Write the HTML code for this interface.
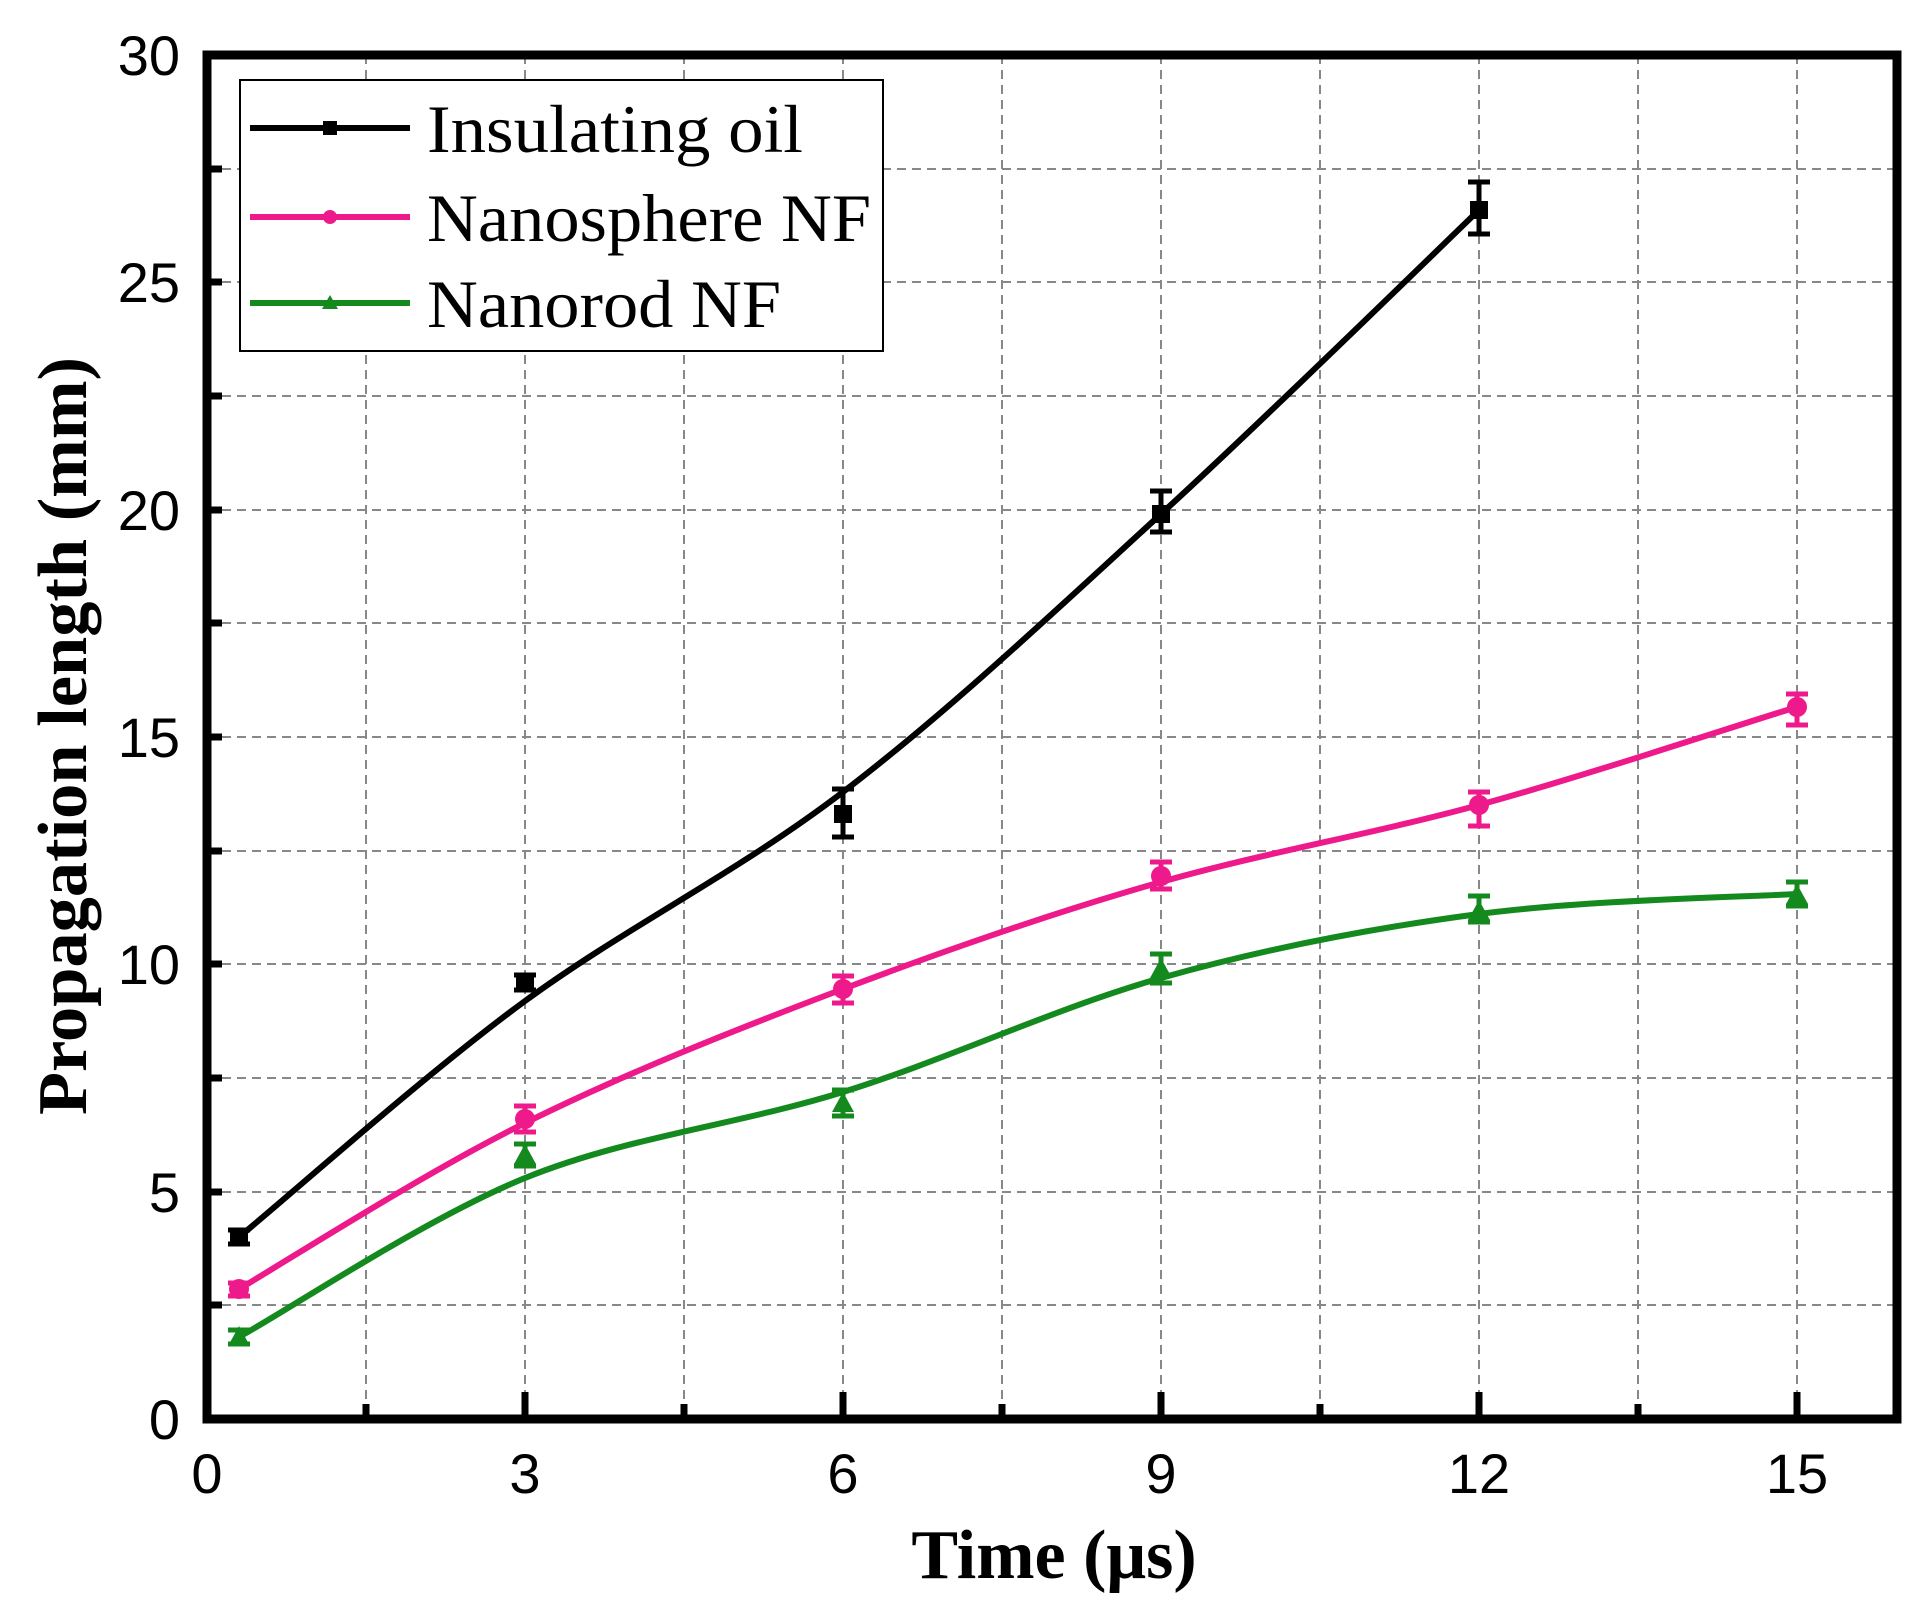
<!DOCTYPE html>
<html><head><meta charset="utf-8"><style>
html,body{margin:0;padding:0;background:#fff;}
svg{display:block;}
</style></head><body>
<svg width="1931" height="1613" xmlns="http://www.w3.org/2000/svg">
<g stroke="#888" stroke-width="2" stroke-dasharray="9,6" fill="none">
<path d="M366 55V1419M525 55V1419M684 55V1419M843 55V1419M1002 55V1419M1161 55V1419M1320 55V1419M1479 55V1419M1638 55V1419M1797 55V1419"/>
<path d="M207 1305H1897M207 1192H1897M207 1078H1897M207 964H1897M207 851H1897M207 737H1897M207 623H1897M207 510H1897M207 396H1897M207 282H1897M207 169H1897"/>
</g>
<g stroke="#000" stroke-width="7">
<path d="M366 1419V1404M684 1419V1404M1002 1419V1404M1320 1419V1404M1638 1419V1404"/>
<path d="M525 1419V1392M843 1419V1392M1161 1419V1392M1479 1419V1392M1797 1419V1392"/>
<path d="M207 1305H222M207 1192H222M207 1078H222M207 964H222M207 851H222M207 737H222M207 623H222M207 510H222M207 396H222M207 282H222M207 169H222"/>
</g>
<rect x="207" y="55" width="1690" height="1364" fill="none" stroke="#000" stroke-width="9"/>
<!-- legend -->
<rect x="240" y="80" width="643" height="271" fill="#fff" stroke="#000" stroke-width="2"/>
<g stroke-width="6">
<path d="M250 128H410" stroke="#000"/><rect x="323" y="121" width="14" height="14" fill="#000"/>
<path d="M250 217H410" stroke="#ee1a8c"/><circle cx="330" cy="217" r="7" fill="#ee1a8c"/>
<path d="M250 303H410" stroke="#148a1e"/><path d="M330 295L338 309H322Z" fill="#148a1e"/>
</g>
<g font-family="Liberation Serif, serif" font-size="68" fill="#000">
<text x="427" y="152" textLength="376" lengthAdjust="spacingAndGlyphs">Insulating oil</text>
<text x="427" y="241" textLength="444" lengthAdjust="spacingAndGlyphs">Nanosphere NF</text>
<text x="427" y="327" textLength="354" lengthAdjust="spacingAndGlyphs">Nanorod NF</text>
</g>
<!-- curves -->
<g fill="none" stroke-width="6">
<path stroke="#000" d="M239 1237C287 1198 424 1075 525 1001C626 927 737 873 843 792C949 711 1055 611 1161 514C1267 417 1426 261 1479 210"/>
<path stroke="#ee1a8c" d="M239 1289C287 1261 424 1173 525 1123C626 1073 737 1029 843 989C949 949 1055 912 1161 882C1267 852 1373 834 1479 805C1585 776 1744 723 1797 707"/>
<path stroke="#148a1e" d="M239 1337C287 1311 424 1219 525 1178C626 1137 737 1125 843 1092C949 1059 1055 1008 1161 978C1267 948 1373 928 1479 914C1585 900 1744 897 1797 894"/>
</g>
<!-- error bars & markers -->
<g stroke="#000" stroke-width="5" fill="#000">
<path d="M228 1230H250M228 1244H250M239 1230V1244 M514 975H536M514 990H536M525 975V990 M832 789H854M832 837H854M843 789V837 M1150 491H1172M1150 532H1172M1161 491V532 M1468 182H1490M1468 234H1490M1479 182V234"/>
<rect x="230" y="1228" width="18" height="18" stroke="none"/>
<rect x="516" y="973" width="18" height="18" stroke="none"/>
<rect x="834" y="805" width="18" height="18" stroke="none"/>
<rect x="1152" y="505" width="18" height="18" stroke="none"/>
<rect x="1470" y="201" width="18" height="18" stroke="none"/>
</g>
<g stroke="#ee1a8c" stroke-width="5" fill="#ee1a8c">
<path d="M228 1283H250M228 1296H250M239 1283V1296 M514 1106H536M514 1132H536M525 1106V1132 M832 976H854M832 1003H854M843 976V1003 M1150 862H1172M1150 889H1172M1161 862V889 M1468 792H1490M1468 826H1490M1479 792V826 M1786 694H1808M1786 725H1808M1797 694V725"/>
<circle cx="239" cy="1289" r="10" stroke="none"/><circle cx="525" cy="1119" r="10" stroke="none"/><circle cx="843" cy="989" r="10" stroke="none"/><circle cx="1161" cy="876" r="10" stroke="none"/><circle cx="1479" cy="805" r="10" stroke="none"/><circle cx="1797" cy="707" r="10" stroke="none"/>
</g>
<g stroke="#148a1e" stroke-width="5" fill="#148a1e">
<path d="M228 1330H250M228 1344H250M239 1330V1344 M514 1144H536M514 1166H536M525 1144V1166 M832 1090H854M832 1116H854M843 1090V1116 M1150 954H1172M1150 983H1172M1161 954V983 M1468 896H1490M1468 922H1490M1479 896V922 M1786 882H1808M1786 906H1808M1797 882V906"/>
<path stroke="none" d="M239 1326L250 1346H228Z M525 1144L536 1164H514Z M843 1092L854 1112H832Z M1161 958L1172 978H1150Z M1479 900L1490 920H1468Z M1797 884L1808 904H1786Z"/>
</g>
<!-- tick labels -->
<g font-family="Liberation Sans, sans-serif" font-size="56" fill="#000" text-anchor="middle">
<text x="207" y="1493">0</text><text x="525" y="1493">3</text><text x="843" y="1493">6</text><text x="1161" y="1493">9</text><text x="1479" y="1493">12</text><text x="1797" y="1493">15</text>
</g>
<g font-family="Liberation Sans, sans-serif" font-size="56" fill="#000" text-anchor="end">
<text x="180" y="1439">0</text><text x="180" y="1212">5</text><text x="180" y="984">10</text><text x="180" y="757">15</text><text x="180" y="530">20</text><text x="180" y="302">25</text><text x="180" y="75">30</text>
</g>
<text x="1054" y="1578" font-family="Liberation Serif, serif" font-weight="bold" font-size="70" text-anchor="middle">Time (μs)</text>
<text transform="translate(86 736) rotate(-90)" font-family="Liberation Serif, serif" font-weight="bold" font-size="70" text-anchor="middle" textLength="758" lengthAdjust="spacingAndGlyphs">Propagation length (mm)</text>
</svg>
</body></html>
